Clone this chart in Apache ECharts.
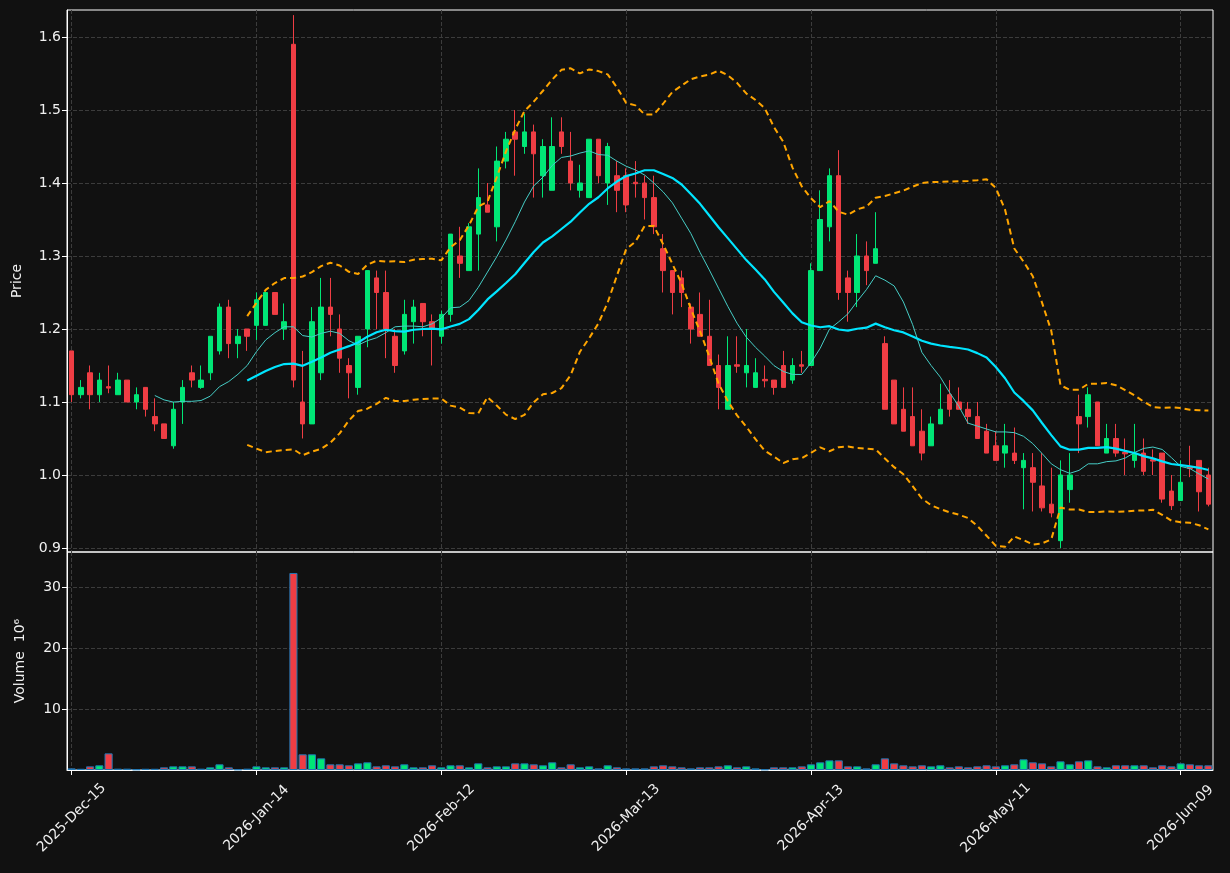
<!DOCTYPE html>
<html><head><meta charset="utf-8">
<script src="https://cdn.jsdelivr.net/npm/echarts@6/dist/echarts.min.js"></script>
<style>html,body{margin:0;padding:0;background:#111111;}#c{width:1230px;height:873px;}</style>
</head><body><div id="c"></div>
<script>
const dates = [
"2025-Dec-15","2025-Dec-16","2025-Dec-17","2025-Dec-18","2025-Dec-19","2025-Dec-22","2025-Dec-23","2025-Dec-24","2025-Dec-26","2025-Dec-29","2025-Dec-30","2025-Dec-31",
"2026-Jan-02","2026-Jan-05","2026-Jan-06","2026-Jan-07","2026-Jan-08","2026-Jan-09","2026-Jan-12","2026-Jan-13","2026-Jan-14","2026-Jan-15","2026-Jan-16","2026-Jan-20","2026-Jan-21","2026-Jan-22","2026-Jan-23","2026-Jan-26","2026-Jan-27","2026-Jan-28","2026-Jan-29","2026-Jan-30",
"2026-Feb-02","2026-Feb-03","2026-Feb-04","2026-Feb-05","2026-Feb-06","2026-Feb-09","2026-Feb-10","2026-Feb-11","2026-Feb-12","2026-Feb-13","2026-Feb-17","2026-Feb-18","2026-Feb-19","2026-Feb-20","2026-Feb-23","2026-Feb-24","2026-Feb-25","2026-Feb-26","2026-Feb-27",
"2026-Mar-02","2026-Mar-03","2026-Mar-04","2026-Mar-05","2026-Mar-06","2026-Mar-09","2026-Mar-10","2026-Mar-11","2026-Mar-12","2026-Mar-13","2026-Mar-16","2026-Mar-17","2026-Mar-18","2026-Mar-19","2026-Mar-20","2026-Mar-23","2026-Mar-24","2026-Mar-25","2026-Mar-26","2026-Mar-27","2026-Mar-30","2026-Mar-31",
"2026-Apr-01","2026-Apr-02","2026-Apr-06","2026-Apr-07","2026-Apr-08","2026-Apr-09","2026-Apr-10","2026-Apr-13","2026-Apr-14","2026-Apr-15","2026-Apr-16","2026-Apr-17","2026-Apr-20","2026-Apr-21","2026-Apr-22","2026-Apr-23","2026-Apr-24","2026-Apr-27","2026-Apr-28","2026-Apr-29","2026-Apr-30",
"2026-May-01","2026-May-04","2026-May-05","2026-May-06","2026-May-07","2026-May-08","2026-May-11","2026-May-12","2026-May-13","2026-May-14","2026-May-15","2026-May-18","2026-May-19","2026-May-20","2026-May-21","2026-May-22","2026-May-26","2026-May-27","2026-May-28","2026-May-29",
"2026-Jun-01","2026-Jun-02","2026-Jun-03","2026-Jun-04","2026-Jun-05","2026-Jun-08","2026-Jun-09","2026-Jun-10","2026-Jun-11","2026-Jun-12"];

const opens = [
1.17,1.11,1.14,1.11,1.121,1.11,1.13,1.10,1.12,1.08,1.07,1.04,1.10,1.14,1.12,1.14,1.17,1.23,1.18,1.20,
1.205,1.205,1.25,1.20,1.59,1.10,1.07,1.14,1.23,1.20,1.15,1.12,1.20,1.27,1.25,1.19,1.17,1.21,1.235,1.21,
1.19,1.22,1.30,1.28,1.33,1.37,1.34,1.43,1.47,1.45,1.47,1.41,1.39,1.47,1.43,1.39,1.38,1.46,1.40,1.41,
1.41,1.401,1.40,1.38,1.31,1.28,1.27,1.23,1.22,1.19,1.15,1.09,1.151,1.14,1.12,1.131,1.13,1.15,1.13,1.151,
1.15,1.28,1.34,1.41,1.27,1.25,1.30,1.29,1.18,1.13,1.09,1.08,1.06,1.04,1.07,1.11,1.10,1.09,1.08,1.06,
1.04,1.03,1.03,1.01,1.01,0.985,0.96,0.91,0.98,1.08,1.08,1.10,1.03,1.05,1.031,1.02,1.03,1.021,1.03,0.978,
0.965,1.011,1.02,1.00];
const closes = [
1.11,1.12,1.11,1.13,1.119,1.13,1.10,1.11,1.09,1.07,1.05,1.09,1.12,1.13,1.13,1.19,1.23,1.18,1.19,1.19,
1.24,1.25,1.22,1.21,1.13,1.07,1.21,1.23,1.22,1.16,1.14,1.19,1.28,1.25,1.20,1.15,1.22,1.23,1.21,1.20,
1.22,1.33,1.29,1.34,1.38,1.36,1.43,1.46,1.46,1.47,1.44,1.45,1.45,1.45,1.40,1.40,1.46,1.41,1.45,1.39,
1.37,1.399,1.38,1.34,1.28,1.25,1.25,1.20,1.19,1.15,1.12,1.15,1.149,1.15,1.14,1.129,1.12,1.12,1.15,1.149,
1.28,1.35,1.41,1.25,1.25,1.30,1.28,1.31,1.09,1.07,1.06,1.04,1.03,1.07,1.09,1.09,1.09,1.08,1.05,1.03,
1.02,1.04,1.02,1.02,0.99,0.955,0.948,1.00,1.00,1.07,1.11,1.04,1.05,1.03,1.029,1.03,1.005,1.019,0.967,0.958,
0.99,1.009,0.977,0.96];
const lows = [
1.10,1.105,1.09,1.10,1.112,1.11,1.10,1.09,1.08,1.06,1.05,1.036,1.07,1.12,1.118,1.13,1.165,1.16,1.16,1.17,
1.185,1.205,1.22,1.185,1.12,1.05,1.07,1.13,1.19,1.14,1.105,1.11,1.175,1.20,1.16,1.14,1.165,1.18,1.19,1.15,
1.18,1.21,1.27,1.28,1.28,1.36,1.32,1.42,1.41,1.44,1.38,1.38,1.39,1.44,1.39,1.38,1.38,1.40,1.37,1.36,
1.36,1.38,1.35,1.33,1.25,1.22,1.23,1.18,1.19,1.15,1.09,1.09,1.14,1.12,1.12,1.12,1.11,1.12,1.125,1.14,
1.15,1.28,1.32,1.24,1.21,1.23,1.26,1.29,1.09,1.07,1.06,1.04,1.02,1.04,1.07,1.08,1.09,1.07,1.05,1.03,
1.02,1.01,1.015,0.953,0.95,0.95,0.942,0.90,0.962,1.03,1.065,1.04,1.03,1.025,1.00,1.01,1.00,1.00,0.962,0.952,
0.965,0.997,0.95,0.957];
const highs = [
1.17,1.13,1.15,1.14,1.15,1.14,1.13,1.12,1.12,1.105,1.07,1.10,1.13,1.15,1.15,1.19,1.235,1.24,1.20,1.20,
1.25,1.25,1.25,1.235,1.63,1.17,1.23,1.27,1.27,1.22,1.16,1.19,1.28,1.28,1.28,1.20,1.24,1.24,1.235,1.22,
1.225,1.33,1.34,1.345,1.42,1.40,1.45,1.47,1.50,1.495,1.48,1.46,1.49,1.49,1.47,1.425,1.46,1.46,1.455,1.43,
1.42,1.43,1.41,1.41,1.33,1.28,1.28,1.235,1.25,1.24,1.165,1.19,1.19,1.20,1.16,1.15,1.13,1.17,1.16,1.17,
1.29,1.39,1.42,1.445,1.28,1.33,1.32,1.36,1.19,1.13,1.12,1.12,1.09,1.08,1.125,1.13,1.12,1.10,1.10,1.07,
1.06,1.07,1.065,1.03,1.03,1.03,1.01,1.02,1.03,1.11,1.12,1.10,1.07,1.07,1.05,1.07,1.05,1.035,1.03,1.00,
1.02,1.04,1.02,1.01];
const volumes = [
0.27,0.2,0.6,0.77,2.73,0.22,0.22,0.1,0.2,0.2,0.44,0.6,0.6,0.6,0.22,0.44,0.93,0.44,0.1,0.22,
0.6,0.44,0.44,0.44,32.3,2.57,2.57,1.91,0.93,0.93,0.77,1.09,1.26,0.6,0.77,0.6,0.93,0.44,0.44,0.77,
0.44,0.77,0.77,0.44,1.09,0.44,0.6,0.6,1.09,1.09,0.93,0.77,1.26,0.44,0.93,0.44,0.6,0.27,0.77,0.44,
0.27,0.27,0.27,0.6,0.77,0.6,0.44,0.27,0.44,0.44,0.6,0.77,0.44,0.6,0.27,0.1,0.44,0.44,0.44,0.6,
0.93,1.26,1.58,1.58,0.6,0.6,0.27,0.93,1.91,1.09,0.77,0.6,0.77,0.6,0.77,0.44,0.6,0.44,0.6,0.77,
0.6,0.77,0.93,1.75,1.26,1.09,0.6,1.42,0.93,1.42,1.58,0.6,0.44,0.77,0.77,0.77,0.77,0.44,0.77,0.6,
1.09,0.93,0.77,0.77];

function sma(arr, n) {
  return arr.map((_, i) => {
    if (i < n - 1) return '-';
    let s = 0; for (let k = i - n + 1; k <= i; k++) s += arr[k];
    return s / n;
  });
}
function band(arr, n, mult) {
  return arr.map((_, i) => {
    if (i < n - 1) return '-';
    let s = 0; for (let k = i - n + 1; k <= i; k++) s += arr[k];
    const m = s / n;
    let v = 0; for (let k = i - n + 1; k <= i; k++) v += (arr[k] - m) * (arr[k] - m);
    return m + mult * Math.sqrt(v / n);
  });
}

const UP = '#00e676', DOWN = '#ef3d44';
const TXT = '#f0f0f0', GRIDC = '#3c3c3c', FONT = 'DejaVu Sans';
const every20 = (i) => i % 20 === 0;

const candles = dates.map((d, i) => [opens[i], closes[i], lows[i], highs[i]]);
const volData = volumes.map((v, i) => ({
  value: v,
  itemStyle: { color: closes[i] >= opens[i] ? UP : DOWN }
}));

const chart = echarts.init(document.getElementById('c'), null, { renderer: 'canvas' });
chart.setOption({
  backgroundColor: '#111111',
  animation: false,
  textStyle: { fontFamily: FONT },
  grid: [
    { left: 67, top: 10, width: 1146, height: 542, show: true, borderColor: '#ffffff', borderWidth: 1, backgroundColor: 'transparent' },
    { left: 67, top: 552, width: 1146, height: 218, show: true, borderColor: '#ffffff', borderWidth: 1, backgroundColor: 'transparent' }
  ],
  xAxis: [
    { type: 'category', gridIndex: 0, data: dates, boundaryGap: true,
      axisLine: { show: false }, axisTick: { show: false }, axisLabel: { show: false },
      splitLine: { show: true, interval: every20, alignWithLabel: true, lineStyle: { color: GRIDC, type: 'dashed', width: 1 } } },
    { type: 'category', gridIndex: 1, data: dates, boundaryGap: true,
      axisLine: { show: true, lineStyle: { color: '#ffffff' } },
      axisTick: { show: true, interval: every20, alignWithLabel: true, length: 5, lineStyle: { color: '#ffffff' } },
      axisLabel: { interval: every20, rotate: 45, align: 'center', verticalAlign: 'middle', color: TXT, fontSize: 14, fontFamily: FONT, margin: 48 },
      splitLine: { show: true, interval: every20, alignWithLabel: true, lineStyle: { color: GRIDC, type: 'dashed', width: 1 } } }
  ],
  yAxis: [
    { type: 'value', gridIndex: 0, min: 0.8945, max: 1.637, splitNumber: 7, scale: true,
      name: 'Price', nameLocation: 'middle', nameGap: 43, nameRotate: 90,
      nameTextStyle: { color: TXT, fontSize: 14, fontFamily: FONT },
      axisLine: { show: true, lineStyle: { color: '#ffffff' } },
      axisTick: { show: true, length: 5, lineStyle: { color: '#ffffff' } },
      axisLabel: { showMinLabel: false, showMaxLabel: false, color: TXT, fontSize: 14, fontFamily: FONT, margin: 6,
        formatter: (v) => v.toFixed(1) },
      splitLine: { show: true, showMinLine: false, showMaxLine: false, lineStyle: { color: GRIDC, type: 'dashed', width: 1 } } },
    { type: 'value', gridIndex: 1, min: 0, max: 35.74, interval: 10,
      name: 'Volume  10\u2076', nameLocation: 'middle', nameGap: 40, nameRotate: 90,
      nameTextStyle: { color: TXT, fontSize: 14, fontFamily: FONT },
      axisLine: { show: true, lineStyle: { color: '#ffffff' } },
      axisTick: { show: true, length: 5, lineStyle: { color: '#ffffff' } },
      axisLabel: { showMinLabel: false, showMaxLabel: false, color: TXT, fontSize: 14, fontFamily: FONT, margin: 6 },
      splitLine: { show: true, showMinLine: false, showMaxLine: false, lineStyle: { color: GRIDC, type: 'dashed', width: 1 } } }
  ],
  series: [
    { type: 'candlestick', xAxisIndex: 0, yAxisIndex: 0, data: candles, barWidth: 5, z: 2,
      itemStyle: { color: UP, color0: DOWN, borderColor: UP, borderColor0: DOWN, borderWidth: 1 } },
    { type: 'line', xAxisIndex: 0, yAxisIndex: 0, data: sma(closes, 10), showSymbol: false, symbol: 'none', z: 3,
      lineStyle: { color: '#46cdc6', width: 1 } },
    { type: 'line', xAxisIndex: 0, yAxisIndex: 0, data: sma(closes, 20), showSymbol: false, symbol: 'none', z: 3,
      lineStyle: { color: '#00e5ff', width: 2.2 } },
    { type: 'line', xAxisIndex: 0, yAxisIndex: 0, data: band(closes, 20, 2), showSymbol: false, symbol: 'none', z: 3,
      lineStyle: { color: '#ffa500', width: 2, type: [6, 4] } },
    { type: 'line', xAxisIndex: 0, yAxisIndex: 0, data: band(closes, 20, -2), showSymbol: false, symbol: 'none', z: 3,
      lineStyle: { color: '#ffa500', width: 2, type: [6, 4] } },
    { type: 'bar', xAxisIndex: 1, yAxisIndex: 1, data: volData, barWidth: '88%', z: 2,
      itemStyle: { borderColor: '#1f77b4', borderWidth: 1 } }
  ]
});
</script></body></html>
